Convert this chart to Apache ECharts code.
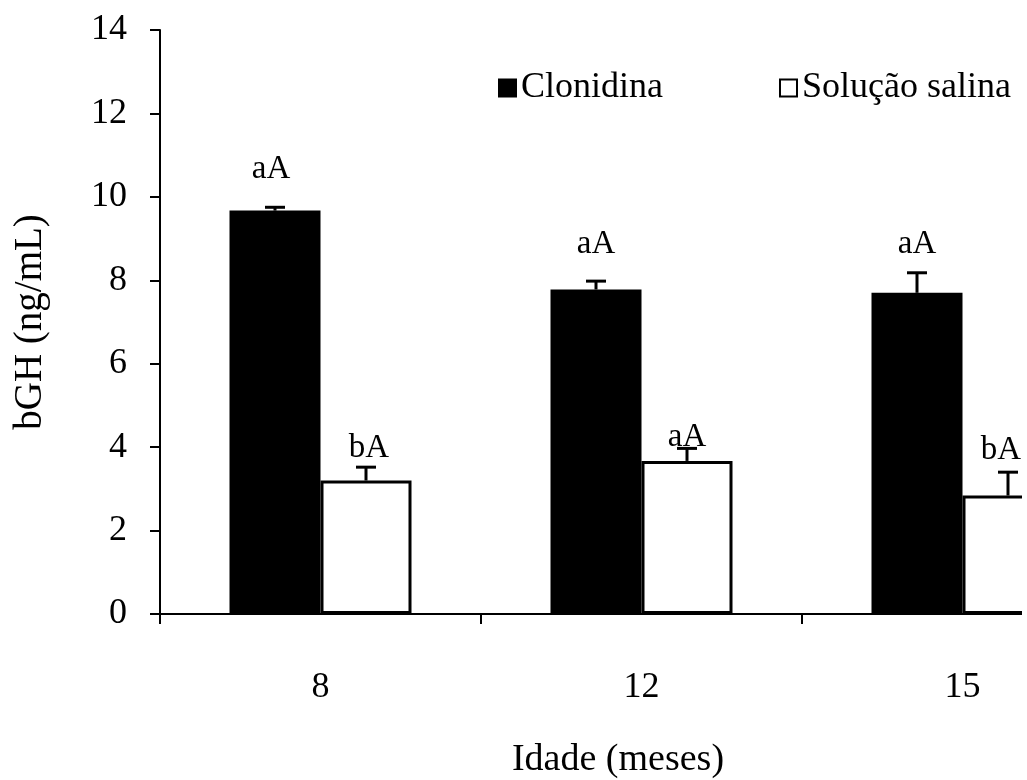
<!DOCTYPE html>
<html>
<head>
<meta charset="utf-8">
<script src="https://cdn.jsdelivr.net/npm/echarts@6/dist/echarts.min.js"></script>
<style>
html,body{margin:0;padding:0;background:#fff;overflow:hidden;}
#wrap{width:1022px;height:780px;overflow:hidden;}
#chart{width:1130px;height:780px;}
</style>
</head>
<body>
<div id="wrap"><div id="chart"></div></div>
<script>
var categories = ['8', '12', '15'];
var clonidina = [9.67, 7.78, 7.70];
var clonidinaErr = [0.08, 0.20, 0.48];
var salina = [3.20, 3.67, 2.84];
var salinaErr = [0.32, 0.30, 0.56];
var clonidinaLetters = ['aA', 'aA', 'aA'];
var salinaLetters = ['bA', 'aA', 'bA'];
var yTicks = [0, 2, 4, 6, 8, 10, 12, 14];

var FONT = '"Liberation Serif", "Times New Roman", serif';
var BAR_W = 91;

function errSeries(name, vals, errs, letters, offset, labelGap, labelDx) {
  return {
    type: 'custom',
    name: name + ' err',
    z: 5,
    silent: true,
    data: vals.map(function (v, i) { return [i, v, errs[i]]; }),
    renderItem: function (params, api) {
      var i = api.value(0), v = api.value(1), e = api.value(2);
      var base = api.coord([i, v]);
      var top = api.coord([i, v + e]);
      var x = base[0] + offset;
      return {
        type: 'group',
        children: [
          { type: 'line', shape: { x1: x, y1: base[1], x2: x, y2: top[1] },
            style: { stroke: '#000', lineWidth: 3 } },
          { type: 'line', shape: { x1: x - 10, y1: top[1], x2: x + 10, y2: top[1] },
            style: { stroke: '#000', lineWidth: 3 } },
          { type: 'text', x: x + labelDx[i], y: top[1] - labelGap[i],
            style: { text: letters[i], font: '33px ' + FONT, fill: '#000',
                     align: 'center', verticalAlign: 'middle' } }
        ]
      };
    }
  };
}

var chart = echarts.init(document.getElementById('chart'));
chart.setOption({
  backgroundColor: '#fff',
  animation: false,
  title: {
    text: 'Idade (meses)',
    left: 613, top: 736,
    textAlign: 'center',
    textStyle: { fontFamily: FONT, fontSize: 38, fontWeight: 'normal', color: '#000' }
  },
  legend: {
    left: 493, top: 65,
    itemWidth: 17, itemHeight: 17, itemGap: 116,
    icon: 'rect',
    textStyle: { fontFamily: FONT, fontSize: 36, color: '#000' },
    data: ['Clonidina', 'Solução salina']
  },
  grid: { left: 160, right: 7, top: 30, bottom: 166, containLabel: false },
  xAxis: {
    type: 'category',
    data: categories,
    axisLine: { lineStyle: { color: '#000', width: 2 } },
    axisTick: { show: true, length: 10, inside: false, lineStyle: { color: '#000', width: 2 } },
    axisLabel: { margin: 56, fontFamily: FONT, fontSize: 36, color: '#000' },
    splitLine: { show: false }
  },
  yAxis: {
    type: 'value',
    min: 0, max: 14, interval: 2,
    name: 'bGH (ng/mL)',
    nameLocation: 'middle',
    nameGap: 110,
    nameRotate: 90,
    nameTextStyle: { fontFamily: FONT, fontSize: 39, color: '#000' },
    axisLine: { show: true, lineStyle: { color: '#000', width: 2 } },
    axisTick: { show: true, length: 10, lineStyle: { color: '#000', width: 2 } },
    axisLabel: { margin: 33, fontFamily: FONT, fontSize: 36, color: '#000',
                 formatter: function (v) { return yTicks.indexOf(v) >= 0 ? String(v) : ''; } },
    splitLine: { show: false }
  },
  series: [
    { name: 'Clonidina', type: 'bar', data: clonidina, barWidth: BAR_W, barGap: '0%',
      itemStyle: { color: '#000', borderColor: '#000', borderWidth: 2 } },
    { name: 'Solução salina', type: 'bar', data: salina, barWidth: BAR_W, barGap: '0%',
      itemStyle: { color: '#fff', borderColor: '#000', borderWidth: 3 } },
    errSeries('Clonidina', clonidina, clonidinaErr, clonidinaLetters, -BAR_W / 2, [38, 37, 28], [-4, 0, 0]),
    errSeries('Solução salina', salina, salinaErr, salinaLetters, BAR_W / 2, [19, 11, 22], [3, 0, -7])
  ]
});
</script>
</body>
</html>
